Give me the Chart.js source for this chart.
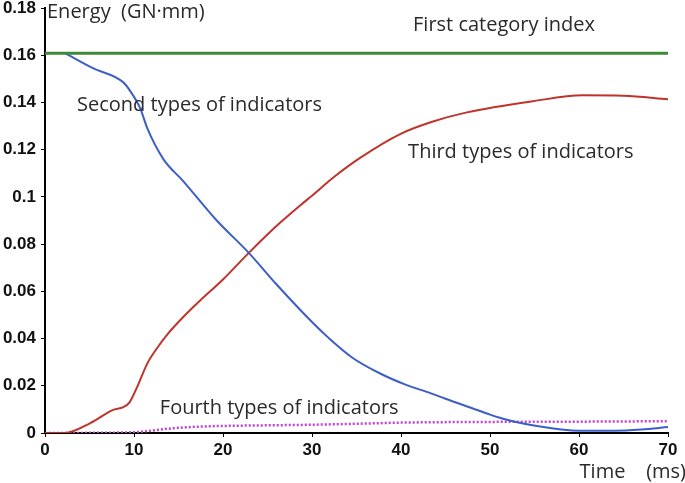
<!DOCTYPE html>
<html>
<head>
<meta charset="utf-8">
<script src="https://cdn.jsdelivr.net/npm/chart.js@4.4.1/dist/chart.umd.min.js"></script>
<style>
html,body{margin:0;padding:0;background:#fff;}
#wrap{width:685px;height:483px;position:relative;}
</style>
</head>
<body>
<div id="wrap"><canvas id="c" width="685" height="483"></canvas></div>
<script>
// ---- data ----
const firstX = [0, 70];
const firstY = [0.1608, 0.1608];

const secondX = [2.2, 5.4, 8.8, 9.6, 10.7, 11.5, 13.3, 15.5, 19.3, 22.9, 26, 30, 31.8, 34.5, 37.6, 40.5, 43.3, 45, 48, 50, 52, 54, 56, 58, 60, 64, 67, 70];
const secondY = [0.161, 0.1545, 0.1485, 0.1447, 0.1375, 0.129, 0.116, 0.1068, 0.090, 0.0763, 0.063, 0.047, 0.0405, 0.032, 0.0253, 0.0205, 0.0169, 0.0145, 0.0105, 0.0078, 0.0055, 0.0038, 0.0025, 0.0015, 0.001, 0.001, 0.0015, 0.0025];

const thirdX = [0, 2.2, 5.1, 7.6, 8.8, 9.5, 10.3, 11.5, 12.6, 13.8, 15.5, 17.4, 20, 22.9, 26.4, 28.7, 30, 32.5, 35.4, 39.9, 43.5, 47.4, 54.8, 60.4, 65, 70];
const thirdY = [0, 0, 0.0042, 0.0097, 0.011, 0.013, 0.019, 0.0295, 0.036, 0.042, 0.049, 0.056, 0.065, 0.0763, 0.089, 0.0965, 0.1005, 0.1085, 0.1165, 0.1266, 0.1318, 0.1358, 0.1405, 0.143, 0.1428, 0.1413];

const fourthX = [0, 10, 11, 13, 15, 18, 22, 30, 36, 40, 50, 60, 70];
const fourthY = [0, 0.0003, 0.0006, 0.0015, 0.0022, 0.0028, 0.0031, 0.0035, 0.004, 0.0044, 0.0047, 0.0048, 0.005];

const seriesNames = ["First category index", "Second types of indicators", "Third types of indicators", "Fourth types of indicators"];
const xTicks = [0, 10, 20, 30, 40, 50, 60, 70];
const yTicks = [0, 0.02, 0.04, 0.06, 0.08, 0.1, 0.12, 0.14, 0.16, 0.18];
const yTitle = "Energy  (GN·mm)";
const xTitle = "Time    (ms)";

function pts(xs, ys){ return xs.map((x,i)=>({x:x, y:ys[i]})); }

const labelPlugin = {
  id: 'labels',
  afterDraw(chart){
    const ctx = chart.ctx;
    const xs = chart.scales.x, ys = chart.scales.y;
    ctx.save();
    ctx.fillStyle = '#2a2a2a';
    ctx.textBaseline = 'middle';
    ctx.textAlign = 'left';
    ctx.font = '20px "Open Sans", "Noto Sans", sans-serif';
    // series annotations (data-space anchors)
    ctx.fillText(seriesNames[0], xs.getPixelForValue(41.35), ys.getPixelForValue(0.1728));
    ctx.fillText(seriesNames[1], xs.getPixelForValue(3.6), ys.getPixelForValue(0.1389));
    ctx.fillText(seriesNames[2], xs.getPixelForValue(40.8), ys.getPixelForValue(0.1190));
    ctx.fillText(seriesNames[3], xs.getPixelForValue(12.9), ys.getPixelForValue(0.0106));
    // axis titles
    ctx.fillText(yTitle, xs.left + 2, 12);
    ctx.textAlign = 'right';
    ctx.fillText(xTitle, 686, 472);
    ctx.restore();
  }
};

new Chart(document.getElementById('c'), {
  type: 'line',
  data: {
    datasets: [
      {label: seriesNames[0], data: pts(firstX, firstY), borderColor: '#3f8a3a', borderWidth: 3, pointRadius: 0, tension: 0},
      {label: seriesNames[1], data: pts(secondX, secondY), borderColor: '#3b5fc6', borderWidth: 2, pointRadius: 0, cubicInterpolationMode: 'monotone'},
      {label: seriesNames[2], data: pts(thirdX, thirdY), borderColor: '#c0332b', borderWidth: 2, pointRadius: 0, cubicInterpolationMode: 'monotone'},
      {label: seriesNames[3], data: pts(fourthX, fourthY), borderColor: '#bb44c8', borderWidth: 2.5, borderDash: [2, 2], pointRadius: 0, cubicInterpolationMode: 'monotone'}
    ]
  },
  options: {
    responsive: false,
    animation: false,
    layout: {padding: {left: 0, right: 17, top: 8, bottom: 0}},
    plugins: {legend: {display: false}, tooltip: {enabled: false}},
    scales: {
      x: {
        type: 'linear', min: 0, max: 70,
        afterBuildTicks(s){ s.ticks = xTicks.map(v=>({value:v})); },
        afterFit(s){ s.height = 50; s.paddingLeft = 0; s.paddingRight = 0; },
        border: {display: true, color: '#000', width: 2},
        grid: {drawOnChartArea: false, drawTicks: true, tickLength: 4, color: '#000'},
        ticks: {color: '#111', font: {family: '"Liberation Sans", Arial, sans-serif', size: 17, weight: 'bold'}, padding: 3, maxRotation: 0,
          callback: v => String(v)}
      },
      y: {
        type: 'linear', min: 0, max: 0.18,
        afterBuildTicks(s){ s.ticks = yTicks.map(v=>({value:v})); },
        afterFit(s){ s.width = 45; s.paddingTop = 0; s.paddingBottom = 0; },
        border: {display: true, color: '#000', width: 2},
        grid: {drawOnChartArea: false, drawTicks: true, tickLength: 4, color: '#000'},
        ticks: {color: '#111', font: {family: '"Liberation Sans", Arial, sans-serif', size: 17, weight: 'bold'}, padding: 5,
          callback: v => String(Number(v.toFixed(2)))}
      }
    }
  },
  plugins: [labelPlugin]
});
</script>
</body>
</html>
